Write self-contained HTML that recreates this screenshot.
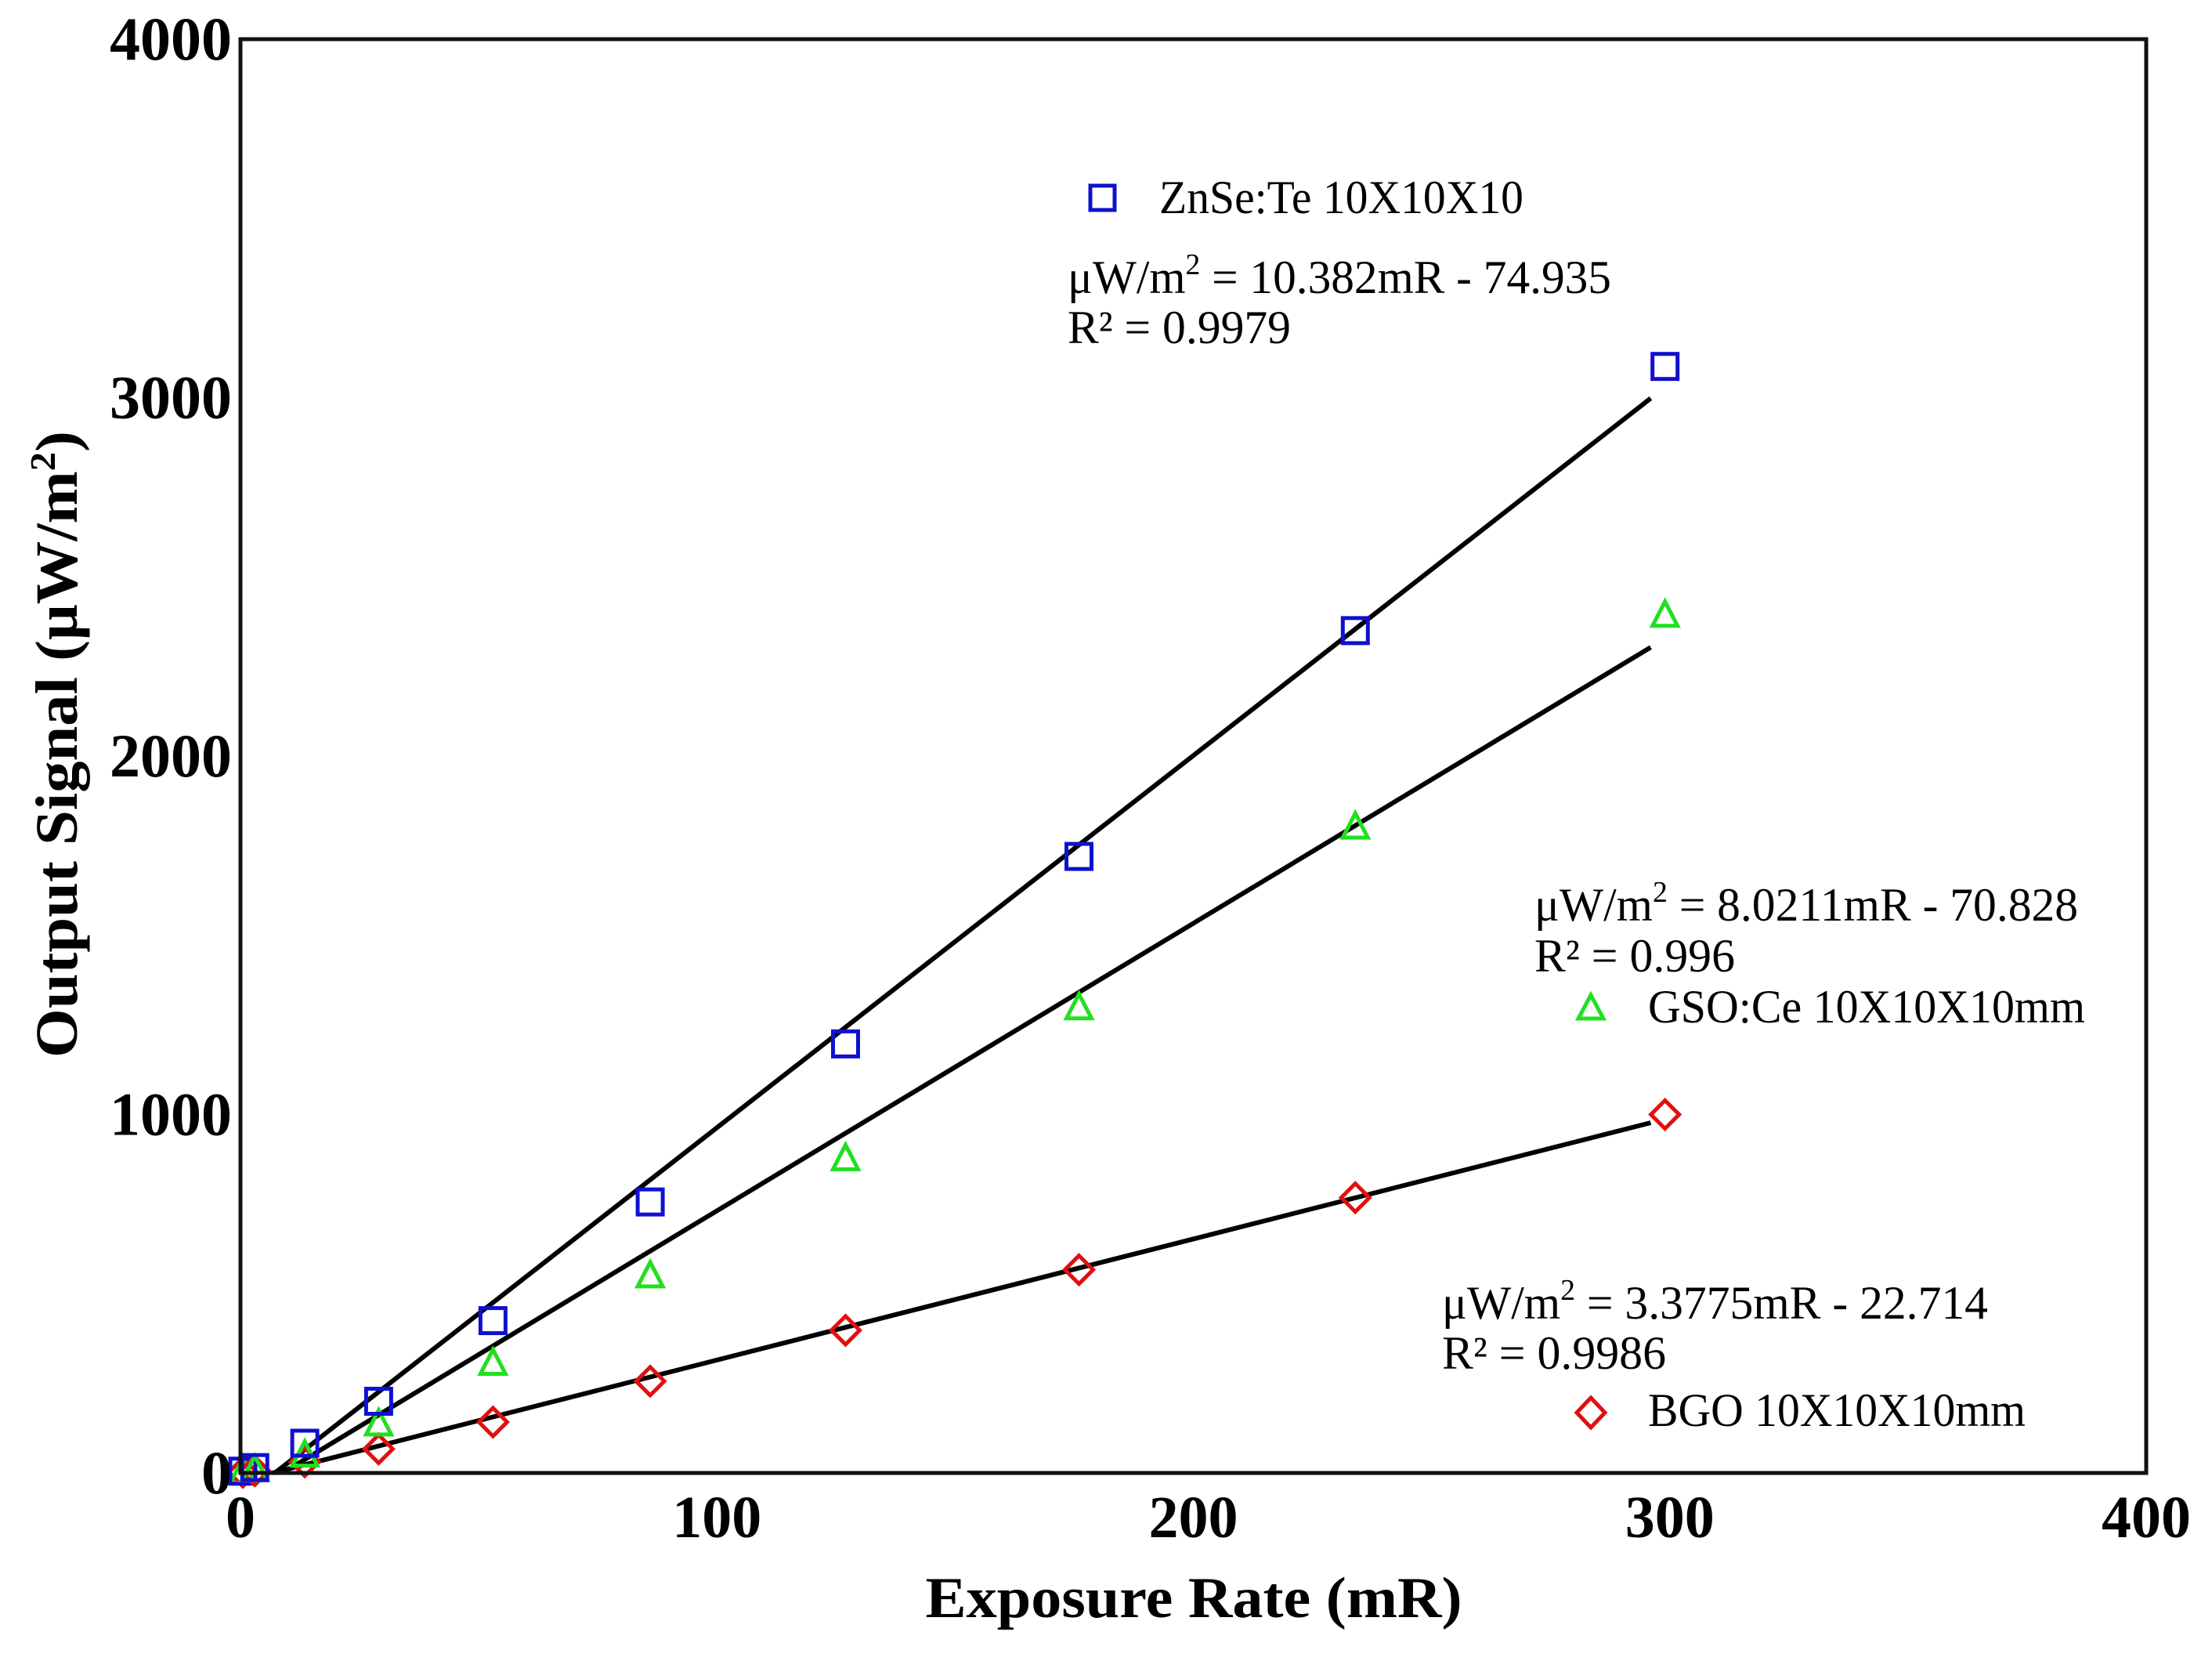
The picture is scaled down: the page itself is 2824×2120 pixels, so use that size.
<!DOCTYPE html>
<html><head><meta charset="utf-8"><style>
html,body{margin:0;padding:0;background:#fff;}
svg{display:block;font-family:"Liberation Serif",serif;}
</style></head><body>
<svg id="chart" width="2824" height="2120" viewBox="0 0 2824 2120" xmlns="http://www.w3.org/2000/svg">
<rect x="0" y="0" width="2824" height="2120" fill="#fff"/>
<g id="marks"></g>
<g id="axes"></g>
<text x="1524" y="2064" font-size="74" font-weight="bold" text-anchor="middle" textLength="685" lengthAdjust="spacingAndGlyphs">Exposure Rate (mR)</text>
<text transform="translate(98,950) rotate(-90)" font-size="76" font-weight="bold" text-anchor="middle" textLength="800" lengthAdjust="spacingAndGlyphs">Output Signal (μW/m<tspan font-size="46" dy="-28">2</tspan><tspan dy="28">)</tspan></text>
<rect x="1392" y="237" width="31" height="31" fill="none" stroke="#1010d0" stroke-width="5"/>
<text x="1480" y="272" font-size="60" textLength="465" lengthAdjust="spacingAndGlyphs">ZnSe:Te 10X10X10</text>
<text x="1363" y="374" font-size="60" textLength="694" lengthAdjust="spacingAndGlyphs">μW/m<tspan font-size="38" dy="-24">2</tspan><tspan dy="24"> = 10.382mR - 74.935</tspan></text>
<text x="1363" y="438" font-size="60" textLength="285" lengthAdjust="spacingAndGlyphs">R² = 0.9979</text>
<text x="1959" y="1175" font-size="60" textLength="694" lengthAdjust="spacingAndGlyphs">μW/m<tspan font-size="38" dy="-24">2</tspan><tspan dy="24"> = 8.0211mR - 70.828</tspan></text>
<text x="1959" y="1240" font-size="60" textLength="256" lengthAdjust="spacingAndGlyphs">R² = 0.996</text>
<polygon points="2031,1270 2047,1300 2015,1300" fill="none" stroke="#20e020" stroke-width="5"/>
<text x="2104" y="1305" font-size="60" textLength="558" lengthAdjust="spacingAndGlyphs">GSO:Ce 10X10X10mm</text>
<text x="1841" y="1683" font-size="60" textLength="697" lengthAdjust="spacingAndGlyphs">μW/m<tspan font-size="38" dy="-24">2</tspan><tspan dy="24"> = 3.3775mR - 22.714</tspan></text>
<text x="1841" y="1747" font-size="60" textLength="286" lengthAdjust="spacingAndGlyphs">R² = 0.9986</text>
<polygon points="2031,1784 2049,1803 2031,1822 2013,1803" fill="none" stroke="#e01010" stroke-width="5"/>
<text x="2104" y="1820" font-size="60" textLength="482" lengthAdjust="spacingAndGlyphs">BGO 10X10X10mm</text>
</svg>
<script>
const xValues = [0.5, 3, 13.5, 29, 53, 86, 127, 176, 234, 299];
const znseValues = [5, 15, 83, 200, 425, 756, 1197, 1720, 2350, 3087];
const gsoValues = [3, 10, 51, 138, 307, 551, 878, 1299, 1803, 2394];
const bgoValues = [2, 6, 31, 67, 142, 256, 398, 567, 768, 1000];
const fitSlopes = [10.382, 8.0211, 3.3775];
const fitIntercepts = [-74.935, -70.828, -22.714];
const fitEndX = [296, 296, 296];
const xTicks = [0, 100, 200, 300, 400];
const yTicks = [0, 1000, 2000, 3000, 4000];

const X0 = 307, X1 = 2740, Y0 = 1880, Y1 = 50;
function sx(v){ return X0 + (v - 0) / 400 * (X1 - X0); }
function sy(v){ return Y0 - (v - 0) / 4000 * (Y0 - Y1); }
const NS = 'http://www.w3.org/2000/svg';
const marks = document.getElementById('marks');
const axes = document.getElementById('axes');
function mk(tag, attrs, parent){
  const e = document.createElementNS(NS, tag);
  for (const k in attrs) e.setAttribute(k, attrs[k]);
  parent.appendChild(e);
  return e;
}
const fitNames = ['fit-line-znse','fit-line-gso','fit-line-bgo'];
for (let i = 0; i < 3; i++){
  const xs = -fitIntercepts[i] / fitSlopes[i];
  const xe = fitEndX[i];
  const l = mk('line', {x1: sx(xs), y1: sy(0), x2: sx(xe), y2: sy(fitSlopes[i]*xe + fitIntercepts[i]), stroke: '#000', 'stroke-width': 6}, marks);
  
  
}
for (let i = 0; i < xValues.length; i++){
  const x = sx(xValues[i]);
  let y = sy(bgoValues[i]);
  const d = mk('polygon', {points: `${x},${y-18} ${x+18},${y} ${x},${y+18} ${x-18},${y}`, fill: 'none', stroke: '#e01010', 'stroke-width': 5}, marks);
  
  
  y = sy(gsoValues[i]);
  const t = mk('polygon', {points: `${x},${y-17} ${x+16},${y+14} ${x-16},${y+14}`, fill: 'none', stroke: '#20e020', 'stroke-width': 5}, marks);
  
  
  y = sy(znseValues[i]);
  const s = mk('rect', {x: x-16, y: y-16, width: 32, height: 32, fill: 'none', stroke: '#1010d0', 'stroke-width': 5}, marks);
  
  
}
const f = mk('rect', {x: X0, y: Y1, width: X1-X0, height: Y0-Y1, fill: 'none', stroke: '#111', 'stroke-width': 5}, axes);


for (const v of xTicks){
  const t = mk('text', {x: sx(v), y: 1962, 'font-size': 76, 'font-weight': 'bold', 'text-anchor': 'middle'}, axes);
  t.textContent = v;
  
  
}
for (const v of yTicks){
  const t = mk('text', {x: 296, y: sy(v) + 26, 'font-size': 78, 'font-weight': 'bold', 'text-anchor': 'end'}, axes);
  t.textContent = v;
  
  
}
</script>
</body></html>
